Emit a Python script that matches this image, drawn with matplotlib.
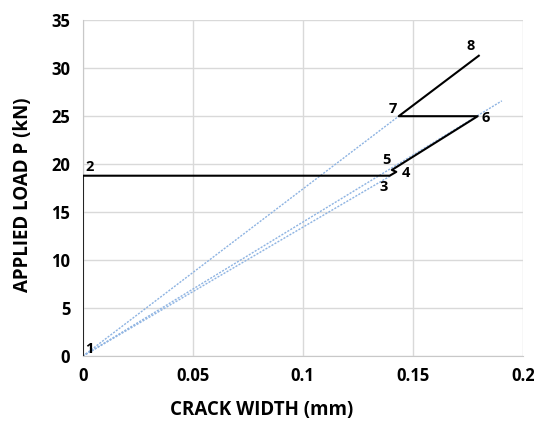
import matplotlib.pyplot as plt

# crack width (mm) / load (kN) path, points 1..8
width = [0.0, 0.0, 0.1395, 0.1425, 0.1405, 0.1795, 0.1436, 0.1800]
load = [0.0, 18.8, 18.8, 19.2, 19.4, 25.0, 25.0, 31.3]
point_names = ["1", "2", "3", "4", "5", "6", "7", "8"]

# dotted reference lines from origin (end points)
ref_x = [[0.0, 0.1436], [0.0, 0.1905], [0.0, 0.1400]]
ref_y = [[0.0, 25.0], [0.0, 26.6], [0.0, 18.8]]

x_ticks = [0, 0.05, 0.1, 0.15, 0.2]
x_ticklabels = ["0", "0.05", "0.1", "0.15", "0.2"]
y_ticks = [0, 5, 10, 15, 20, 25, 30, 35]

# label offsets in points
offsets = [(2, 0), (2, 1), (-1, -13), (4, -6), (-1, 2), (3, -6), (-1, 0), (-3, 2)]

plt.rcParams["font.family"] = ["Open Sans", "DejaVu Sans"]
fig = plt.figure(figsize=(5.34, 4.21), dpi=100)
ax = fig.add_axes([0.155, 0.154, 0.824, 0.798])

for rx, ry in zip(ref_x, ref_y):
    ax.plot(rx, ry, color="#8db3e2", linestyle=(0, (1.5, 1)), linewidth=1.0, zorder=2)

ax.plot(width, load, color="black", linewidth=1.5, zorder=3)

for x, y, name, (dx, dy) in zip(width, load, point_names, offsets):
    ax.annotate(name, (x, y), xytext=(dx, dy), textcoords="offset points",
                fontsize=10.5, fontweight="bold", ha="left" if dx >= 0 else "right",
                va="bottom", zorder=4)

ax.set_xlim(0, 0.2)
ax.set_ylim(0, 35)
ax.set_xticks(x_ticks)
ax.set_xticklabels(x_ticklabels)
ax.set_yticks(y_ticks)
ax.grid(True, color="#d9d9d9", linewidth=1.0)
ax.set_axisbelow(True)
for s in ["top", "right"]:
    ax.spines[s].set_visible(False)
for s in ["left", "bottom"]:
    ax.spines[s].set_color("#c8c8c8")
ax.tick_params(length=0, labelsize=12, pad=9)
ax.tick_params(axis="x", pad=8)
for lbl in ax.get_xticklabels() + ax.get_yticklabels():
    lbl.set_fontweight("bold")

ax.set_xlabel("CRACK WIDTH (mm)", fontsize=13.5, fontweight="bold")
ax.xaxis.set_label_coords(0.407, -0.13)
ax.set_ylabel("APPLIED LOAD P (kN)", fontsize=13.5, fontweight="bold")
ax.yaxis.set_label_coords(-0.113, 0.479)

fig.savefig("out.png", dpi=100)
